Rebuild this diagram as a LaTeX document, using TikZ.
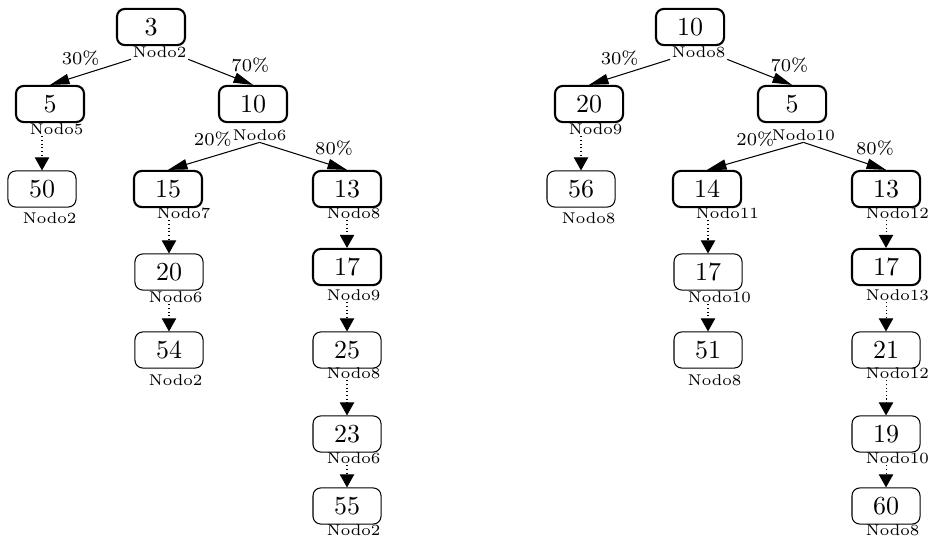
\documentclass[tikz,border=0pt]{standalone}
\usetikzlibrary{arrows.meta}

\tikzset{
    caja/.style={draw, rounded corners=3pt, minimum width=26.2pt, minimum height=13.9pt, inner sep=0pt, font=\normalsize},
    cajaint/.style={caja, thick},
    cajahoja/.style={caja, thin},
    etiq/.style={anchor=west, inner sep=0.5pt, font=\fontsize{6}{7}\selectfont},
    prob/.style={inner sep=1pt},
    flecha/.style={-{Triangle[length=7.5pt, width=4pt]}},
    punteada/.style={densely dotted, -{Triangle[length=5pt, width=5.5pt]}},
    every node/.append style={font=\scriptsize}
}

\begin{document}
\begin{tikzpicture}[x=0.385pt, y=-0.385pt]
    \useasboundingbox (0,0) rectangle (929,537);
    % cajas y etiquetas de los dos arboles (el derecho va 539 mas a la derecha)
    \foreach \n/\x/\y/\s/\lx/\ly/\vL/\tL/\vR/\tR in {
        a/151/27/cajaint/131/52/3/Nodo2/10/Nodo8,
        b/50/104/cajaint/28/129/5/Nodo5/20/Nodo9,
        c/253/104/cajaint/231/135/10/Nodo6/5/Nodo10,
        d/42/189/cajahoja/21/218/50/Nodo2/56/Nodo8,
        e/168/189/cajaint/155/213/15/Nodo7/14/Nodo11,
        f/347/189/cajaint/325/213/13/Nodo8/13/Nodo12,
        g/169/272/cajahoja/147/297/20/Nodo6/17/Nodo10,
        h/169/350/cajahoja/147/380/54/Nodo2/51/Nodo8,
        i/347/267/cajaint/325/295/17/Nodo9/17/Nodo13,
        j/347/350/cajahoja/325/373/25/Nodo8/21/Nodo12,
        k/347/434/cajahoja/325/458/23/Nodo6/19/Nodo10,
        l/347/506/cajahoja/325/530/55/Nodo2/60/Nodo8}
    {
        \node[\s] (L\n) at (\x,\y) {\vL};
        \node[etiq] (L\n-n) at (\lx,\ly) {\tL};
        \node[\s] (R\n) at (\x+539,\y) {\vR};
        \node[etiq] (R\n-n) at (\lx+539,\ly) {\tR};
    }
    \foreach \tr in {L,R} {
        % ramas con probabilidad
        \foreach \p/\sa/\c/\pct/\ps/\an in {
            a/south west/b/30\%/.35/south east,
            a/south east/c/70\%/.62/south west,
            c/south/e/20\%/.27/south east,
            c/south/f/80\%/.6/south west}
            \draw[flecha] (\tr\p-n.\sa) -- (\tr\c.north)
                node[prob, pos=\ps, anchor=\an] {\pct};
        % cadenas punteadas
        \foreach \p/\c in {b/d, e/g, g/h, f/i, i/j, j/k, k/l}
            \draw[punteada] (\tr\c.north |- \tr\p-n.south) -- (\tr\c.north);
    }
\end{tikzpicture}
\end{document}
